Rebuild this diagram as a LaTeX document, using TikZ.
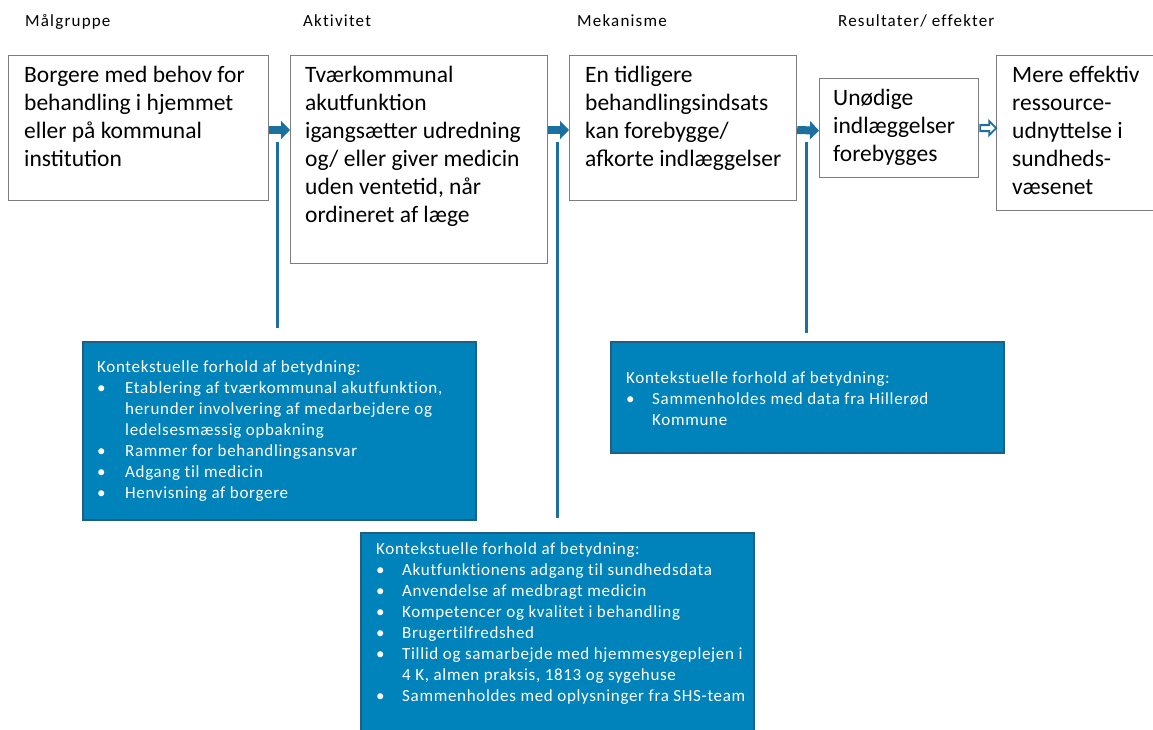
\documentclass[tikz,border=0pt]{standalone}
\usepackage{fontspec}
\setmainfont{Carlito}
\newfontfamily\blueface[LetterSpace=4,Ligatures=NoCommon]{Carlito}
\newfontfamily\headface[LetterSpace=7,Ligatures=NoCommon]{Carlito}
\usetikzlibrary{arrows.meta,calc}
\definecolor{boxblue}{RGB}{0,130,186}
\definecolor{boxedge}{RGB}{30,95,135}
\definecolor{arrowblue}{RGB}{28,112,160}
\definecolor{graybord}{RGB}{125,125,125}
\newcommand{\bul}[2][28pt]{\makebox[#1][l]{•}#2}
\newcommand{\cont}[2][28pt]{\hspace*{#1}#2}
\begin{document}
\begin{tikzpicture}[x=1pt,y=-1pt,
 whitebox/.style={draw=graybord, line width=1.2pt, fill=white, anchor=north west, inner sep=0},
 bluebox/.style={draw=boxedge, line width=2pt, fill=boxblue, anchor=north west, inner sep=0},
 boxtext/.style={anchor=north west, inner sep=0, align=left, font=\fontsize{23.5}{28}\selectfont},
 bluetext/.style={anchor=north west, inner sep=0, align=left, text=white, font=\blueface\fontsize{17}{21}\selectfont},
 header/.style={anchor=base west, inner sep=0, font=\headface\fontsize{17}{20}\selectfont},
 flow/.style={line width=8pt, arrowblue, -{Triangle[width=18pt,length=9pt]}},
 vline/.style={line width=3pt, arrowblue}
]
\clip (0,0) rectangle (1153,729);
\fill[white] (0,0) rectangle (1153,729);

% headers
\node[header] (h1) at (25,26) {Målgruppe};
\node[header] (h2) at (303,26) {Aktivitet};
\node[header] (h3) at (577,26) {Mekanisme};
\node[header] (h4) at (838,26) {Resultater/ effekter};

% white boxes
\node[whitebox, minimum width=260pt, minimum height=145pt] (b1) at (8,55) {};
\node[whitebox, minimum width=257pt, minimum height=208pt] (b2) at (290,55) {};
\node[whitebox, minimum width=227pt, minimum height=145pt] (b3) at (569,55) {};
\node[whitebox, minimum width=159pt, minimum height=99pt] (b4) at (819,78) {};
\node[whitebox, minimum width=170pt, minimum height=155pt] (b5) at (996,55) {};

\node[boxtext] (t1) at (24,62.4) {\strut Borgere med behov for\\behandling i hjemmet\\eller på kommunal\\institution};
\node[boxtext] (t2) at (305,62.4) {\strut Tværkommunal\\akutfunktion\\igangsætter udredning\\og/ eller giver medicin\\uden ventetid, når\\ordineret af læge};
\node[boxtext] (t3) at (585,62.4) {\strut En tidligere\\behandlingsindsats\\kan forebygge/\\afkorte indlæggelser};
\node[boxtext] (t4) at (833,85.4) {\strut Unødige\\indlæggelser\\forebygges};
\node[boxtext] (t5) at (1012,62.4) {\strut Mere effektiv\\ressource-\\udnyttelse i\\sundheds-\\væsenet};

% arrows
\coordinate (a1s) at ($(b1.north east)+(0,75)$);
\coordinate (a1e) at ($(b2.north west)+(0,75)$);
\coordinate (a2s) at ($(b2.north east)+(0,75)$);
\coordinate (a2e) at ($(b3.north west)+(0,75)$);
\coordinate (a3s) at ($(b3.north east)+(0,75)$);
\coordinate (a3e) at ($(b4.west)+(0,2.5)$);
\draw[flow] (a1s) -- (a1e);
\draw[flow] (a2s) -- (a2e);
\draw[flow] (a3s) -- (a3e);
% hollow arrow
\coordinate (a4s) at (b4.east);
\draw[arrowblue, line width=1.8pt, fill=white, line join=miter]
  ($(a4s)+(1,-3)$) -- ++(9,0) -- ++(0,-4) -- ++(7,7) -- ++(-7,7) -- ++(0,-4) -- ++(-9,0) -- cycle;

% blue boxes
\node[bluebox, minimum width=393pt, minimum height=178pt] (c1) at (82,341) {};
\node[bluebox, minimum width=393pt, minimum height=215pt] (c2) at (360,532) {};
\node[bluebox, minimum width=393pt, minimum height=111pt] (c3) at (610,341) {};

\node[bluetext] (u1) at (97,357.3) {\strut Kontekstuelle forhold af betydning:\\
\bul{Etablering af tværkommunal akutfunktion,}\\
\cont{herunder involvering af medarbejdere og}\\
\cont{ledelsesmæssig opbakning}\\
\bul{Rammer for behandlingsansvar}\\
\bul{Adgang til medicin}\\
\bul{Henvisning af borgere}};
\node[bluetext] (u2) at (376,539.3) {\strut Kontekstuelle forhold af betydning:\\
\bul[26pt]{Akutfunktionens adgang til sundhedsdata}\\
\bul[26pt]{Anvendelse af medbragt medicin}\\
\bul[26pt]{Kompetencer og kvalitet i behandling}\\
\bul[26pt]{Brugertilfredshed}\\
\bul[26pt]{Tillid og samarbejde med hjemmesygeplejen i}\\
\cont[26pt]{4 K, almen praksis, 1813 og sygehuse}\\
\bul[26pt]{Sammenholdes med oplysninger fra SHS-team}};
\node[bluetext] (u3) at (626,368.3) {\strut Kontekstuelle forhold af betydning:\\
\bul[26pt]{Sammenholdes med data fra Hillerød}\\
\cont[26pt]{Kommune}};

% vertical lines
\coordinate (v1t) at ($(a1s)+(8,12)$);
\coordinate (v2t) at ($(a2s)+(9,12)$);
\coordinate (v3t) at ($(a3s)+(9,12)$);
\draw[vline] (v1t) -- ($(v1t |- c1.north)+(0,-13)$);
\draw[vline] (v2t) -- ($(v2t |- c2.north)+(0,-14)$);
\draw[vline] (v3t) -- ($(v3t |- c3.north)+(0,-8)$);
\end{tikzpicture}
\end{document}
